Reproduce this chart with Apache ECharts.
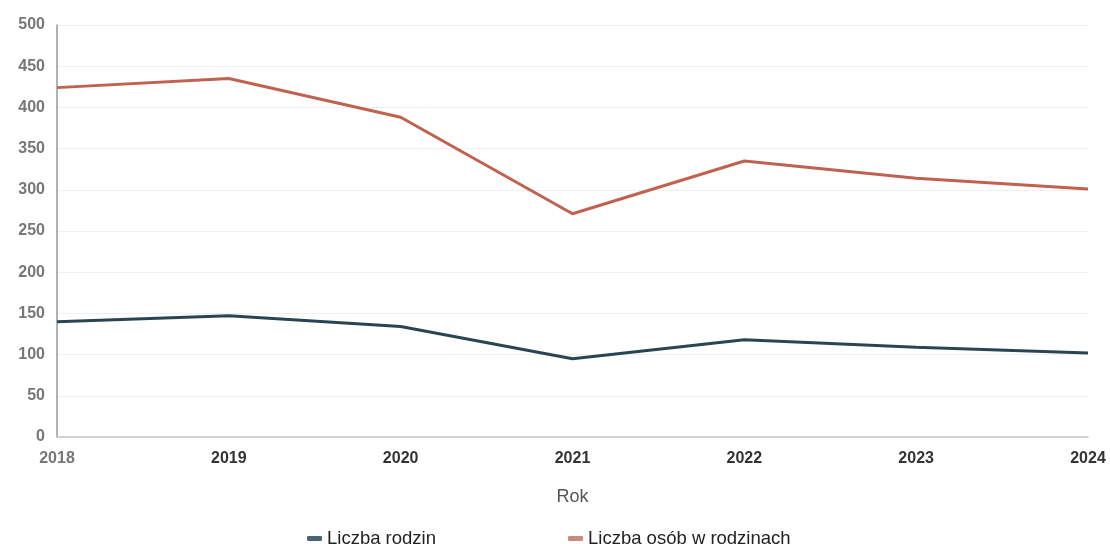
<!DOCTYPE html>
<html><head><meta charset="utf-8">
<script src="https://cdn.jsdelivr.net/npm/echarts@6/dist/echarts.min.js"></script>
<style>html,body{margin:0;padding:0;background:#fff}#c{width:1110px;height:544px}</style>
</head><body><div id="c"></div>
<script>
const years = ['2018','2019','2020','2021','2022','2023','2024'];
const rodziny = [140, 147, 134, 95, 118, 109, 102];
const osoby = [424, 435, 388, 271, 335, 314, 301];
const yTicks = [0, 50, 100, 150, 200, 250, 300, 350, 400, 450, 500];

const chart = echarts.init(document.getElementById('c'));
chart.setOption({
  backgroundColor: '#fff',
  animation: false,
  grid: {left: 57, right: 22, top: 25, bottom: 107},
  legend: {
    left: 302, top: 524, itemWidth: 15, itemHeight: 5, itemGap: 132, icon: 'roundRect',
    textStyle: {fontFamily: 'Liberation Sans', fontSize: 18.5, color: '#222'},
    data: ['Liczba rodzin', 'Liczba osób w rodzinach']
  },
  xAxis: {
    type: 'category', data: years, boundaryGap: false,
    name: 'Rok', nameLocation: 'middle', nameGap: 51,
    nameTextStyle: {fontFamily: 'Liberation Sans', fontSize: 18, color: '#555'},
    axisLine: {lineStyle: {color: '#c4c4c4', width: 1.5}},
    axisTick: {show: false},
    axisLabel: {
      margin: 14, fontFamily: 'Liberation Sans', fontSize: 16, fontWeight: 'bold', color: '#333',
      formatter: function (v, i) { return i === 0 ? '{g|' + v + '}' : v; },
      rich: {g: {fontFamily: 'Liberation Sans', fontSize: 16, fontWeight: 'bold', color: '#777'}}
    },
    splitLine: {show: false}
  },
  yAxis: {
    type: 'value', min: yTicks[0], max: yTicks[yTicks.length - 1], interval: 50,
    axisLine: {show: true, lineStyle: {color: '#999', width: 1.5}},
    axisTick: {show: false},
    axisLabel: {margin: 12, fontFamily: 'Liberation Sans', fontSize: 16, fontWeight: 'bold', color: '#777'},
    splitLine: {lineStyle: {color: '#f0f0f0', width: 1}}
  },
  series: [
    {name: 'Liczba rodzin', type: 'line', data: rodziny, showSymbol: false,
     lineStyle: {color: '#2a4552', width: 3}, itemStyle: {color: '#4a6472'}},
    {name: 'Liczba osób w rodzinach', type: 'line', data: osoby, showSymbol: false,
     lineStyle: {color: '#c0624f', width: 3}, itemStyle: {color: '#c98a80'}}
  ]
});
</script></body></html>
